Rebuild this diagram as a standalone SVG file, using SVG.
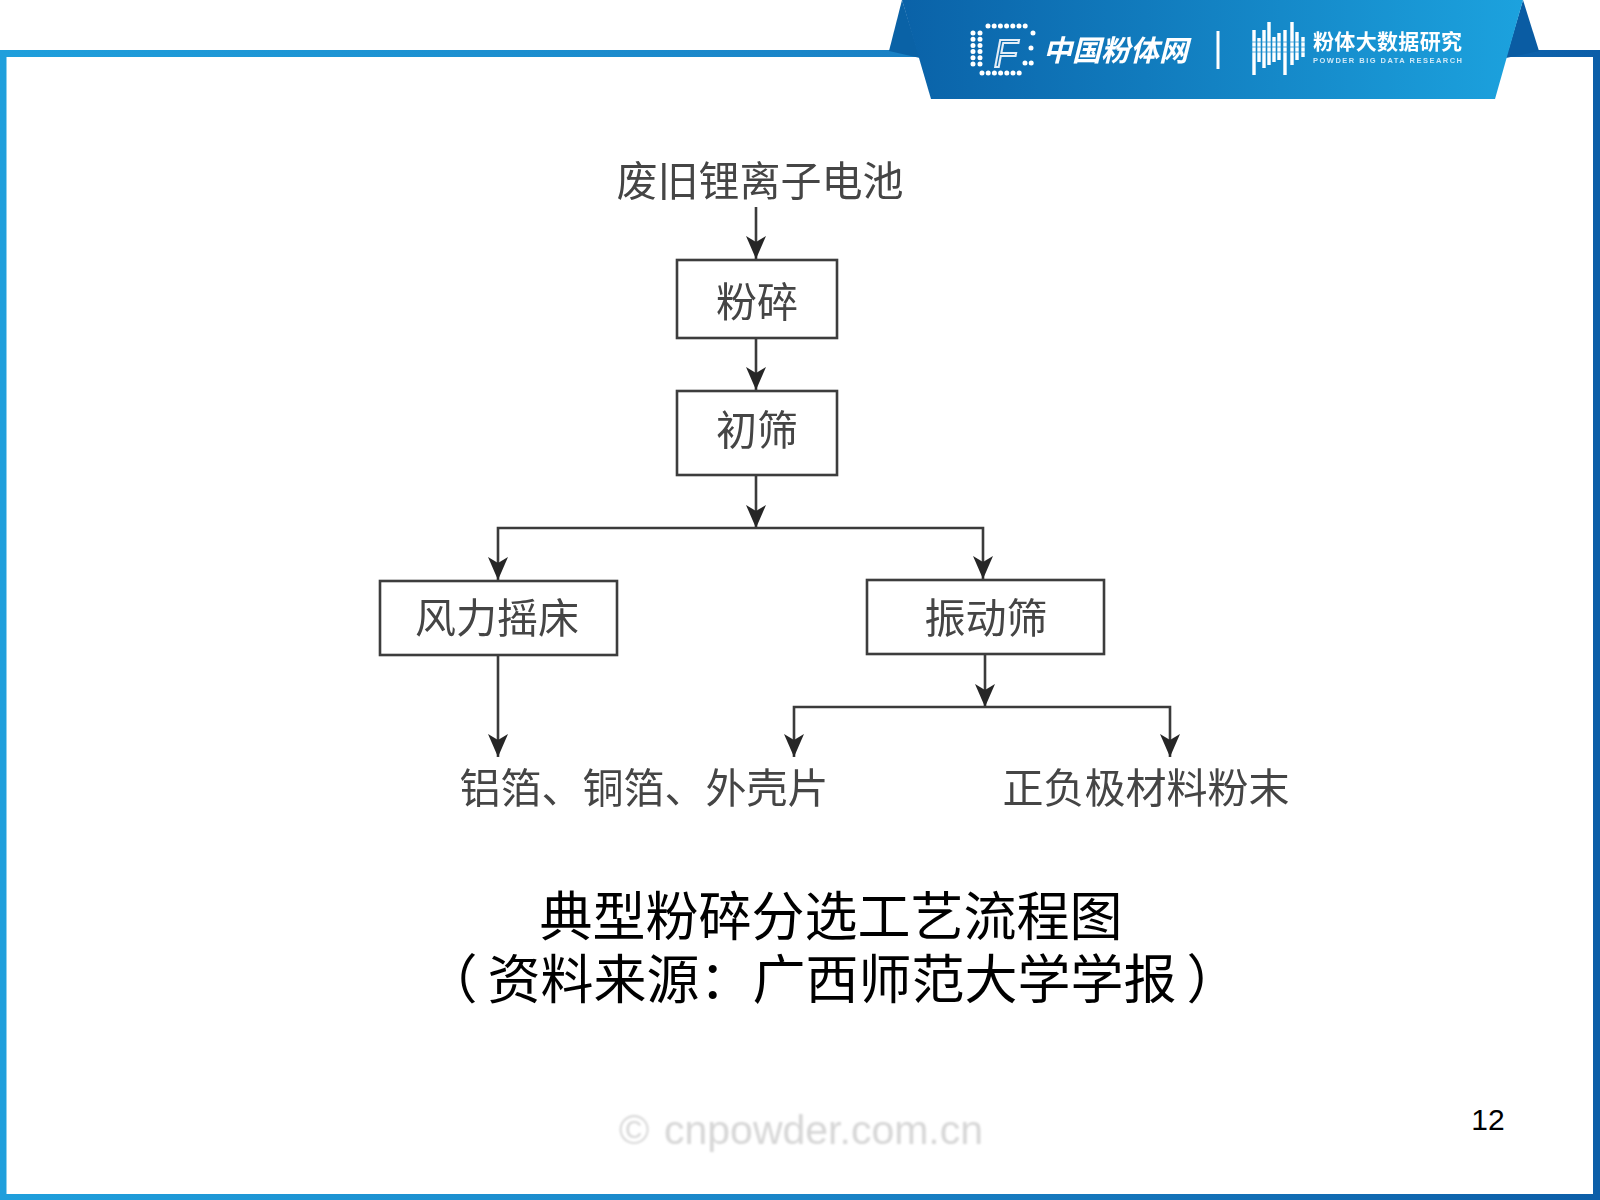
<svg xmlns="http://www.w3.org/2000/svg" width="1600" height="1200" viewBox="0 0 1600 1200">
<defs>
<linearGradient id="bannerGrad" x1="0" y1="0" x2="1" y2="0"><stop offset="0" stop-color="#0a62a8"/><stop offset="1" stop-color="#1ca2de"/></linearGradient>
<linearGradient id="frameGrad" gradientUnits="userSpaceOnUse" x1="0" y1="0" x2="1600" y2="0"><stop offset="0" stop-color="#1f9fdc"/><stop offset="0.5" stop-color="#1a85c8"/><stop offset="1" stop-color="#0c5ea8"/></linearGradient>
<marker id="arrow" markerUnits="userSpaceOnUse" markerWidth="24" markerHeight="22" refX="23" refY="11" orient="auto" viewBox="0 0 24 22"><path d="M23,11 L0,1 L6,11 L0,21 Z" fill="#262626"/></marker>
<filter id="soft" x="-5%" y="-5%" width="110%" height="110%"><feGaussianBlur stdDeviation="0.7"/></filter>
<filter id="softer" x="-5%" y="-10%" width="110%" height="120%"><feGaussianBlur stdDeviation="0.9"/></filter>
</defs>
<style>
.cjk{font-family:"Noto Sans CJK SC","Liberation Sans",sans-serif}
.flow{font-size:41px;fill:#444;text-anchor:middle;dominant-baseline:central}
.box{fill:#fff;stroke:#3c3c3c;stroke-width:2.6}
.conn{fill:none;stroke:#3a3a3a;stroke-width:2.6}
.cap{font-size:53px;fill:#000;text-anchor:middle}
.dots{fill:none;stroke:#fff;stroke-width:5;stroke-linecap:round;stroke-dasharray:0 6.2}
.bar{stroke:#fff;stroke-width:3.4;fill:none}
.white{fill:#fff}
</style>
<rect width="1600" height="1200" fill="#fff"/>
<g id="frame">
<rect x="3" y="53.5" width="1593.5" height="1144" fill="none" stroke="url(#frameGrad)" stroke-width="7"/>
</g>
<g id="banner">
<polygon points="902,0 889,51 920,58" fill="#0a62a6"/>
<polygon points="1523,0 1539,51 1506,58" fill="#0a5ca3"/>
<polygon points="902,0 1523,0 1495,99 931,99" fill="url(#bannerGrad)"/>
<g filter="url(#soft)">
<path class="dots" d="M988,26H1026M982,73H1021M973,33V66M980,33V66M1033,33H1039M1025,63H1034M1031,48V49"/>
<text x="994" y="67" font-family="Liberation Sans,sans-serif" font-size="38" font-style="italic" fill="none" stroke="#e4eef7" stroke-width="2">F</text>
<text class="cjk white" x="1043" y="61" font-size="29" font-weight="700" font-style="italic">中国粉体网</text>
<line x1="1218" y1="31" x2="1218" y2="69" stroke="#fff" stroke-width="3"/>
<path class="bar" d="M1254,30V75M1259,38V62M1264,30V68M1269,22V65M1274,37V62M1279,33V60M1285,30V75M1292,22V65M1297,32V60M1303,37V57"/>
<path d="M1250,42H1306M1250,47H1306M1250,52H1306" stroke="#1a8fd0" stroke-width="1" opacity=".7" fill="none"/>
<text class="cjk white" x="1313" y="48.5" font-size="21" font-weight="700" textLength="149" lengthAdjust="spacing">粉体大数据研究</text>
<text x="1313" y="63" font-family="Liberation Sans,sans-serif" font-size="7.5" font-weight="700" fill="#cfe8f7" textLength="149" lengthAdjust="spacing">POWDER BIG DATA RESEARCH</text>
</g>
</g>
<g filter="url(#soft)">
<g id="connectors">
<line class="conn" x1="756" y1="207" x2="756" y2="259" marker-end="url(#arrow)"/>
<line class="conn" x1="756" y1="339" x2="756" y2="390" marker-end="url(#arrow)"/>
<line class="conn" x1="756" y1="475" x2="756" y2="528" marker-end="url(#arrow)"/>
<path class="conn" d="M756,528H498V580" marker-end="url(#arrow)"/>
<path class="conn" d="M756,528H983V579" marker-end="url(#arrow)"/>
<line class="conn" x1="498" y1="655" x2="498" y2="757" marker-end="url(#arrow)"/>
<line class="conn" x1="985" y1="654" x2="985" y2="707" marker-end="url(#arrow)"/>
<path class="conn" d="M985,707H794V757" marker-end="url(#arrow)"/>
<path class="conn" d="M985,707H1170V757" marker-end="url(#arrow)"/>
</g>
<g id="n-battery"><text class="cjk flow" x="760" y="178">废旧锂离子电池</text></g>
<g id="n-crush"><rect class="box" x="677" y="260" width="160" height="78"/><text class="cjk flow" x="757" y="299">粉碎</text></g>
<g id="n-prescreen"><rect class="box" x="677" y="391" width="160" height="84"/><text class="cjk flow" x="757" y="427">初筛</text></g>
<g id="n-table"><rect class="box" x="380" y="581" width="237" height="74"/><text class="cjk flow" x="497" y="615">风力摇床</text></g>
<g id="n-vibro"><rect class="box" x="867" y="580" width="237" height="74"/><text class="cjk flow" x="986" y="615">振动筛</text></g>
<g id="n-foil"><text class="cjk flow" x="644" y="785">铝箔、铜箔、外壳片</text></g>
<g id="n-powder"><text class="cjk flow" x="1146" y="785">正负极材料粉末</text></g>
</g>
<g id="caption">
<text class="cjk cap" x="831" y="936">典型粉碎分选工艺流程图</text>
<text class="cjk cap" x="832" y="999">（<tspan dx="10">资料来源：广西师范大学学报</tspan><tspan dx="10">）</tspan></text>
</g>
<g id="page-number"><text x="1488" y="1130" font-family="Liberation Sans,Arial,sans-serif" font-size="30" text-anchor="middle" fill="#000">12</text></g>
<g id="watermark" filter="url(#softer)"><text y="1144" font-family="Liberation Sans,Arial,sans-serif" font-size="41" fill="#d6d6d6"><tspan x="619">©</tspan><tspan x="664">cnpowder.com.cn</tspan></text></g>
</svg>
